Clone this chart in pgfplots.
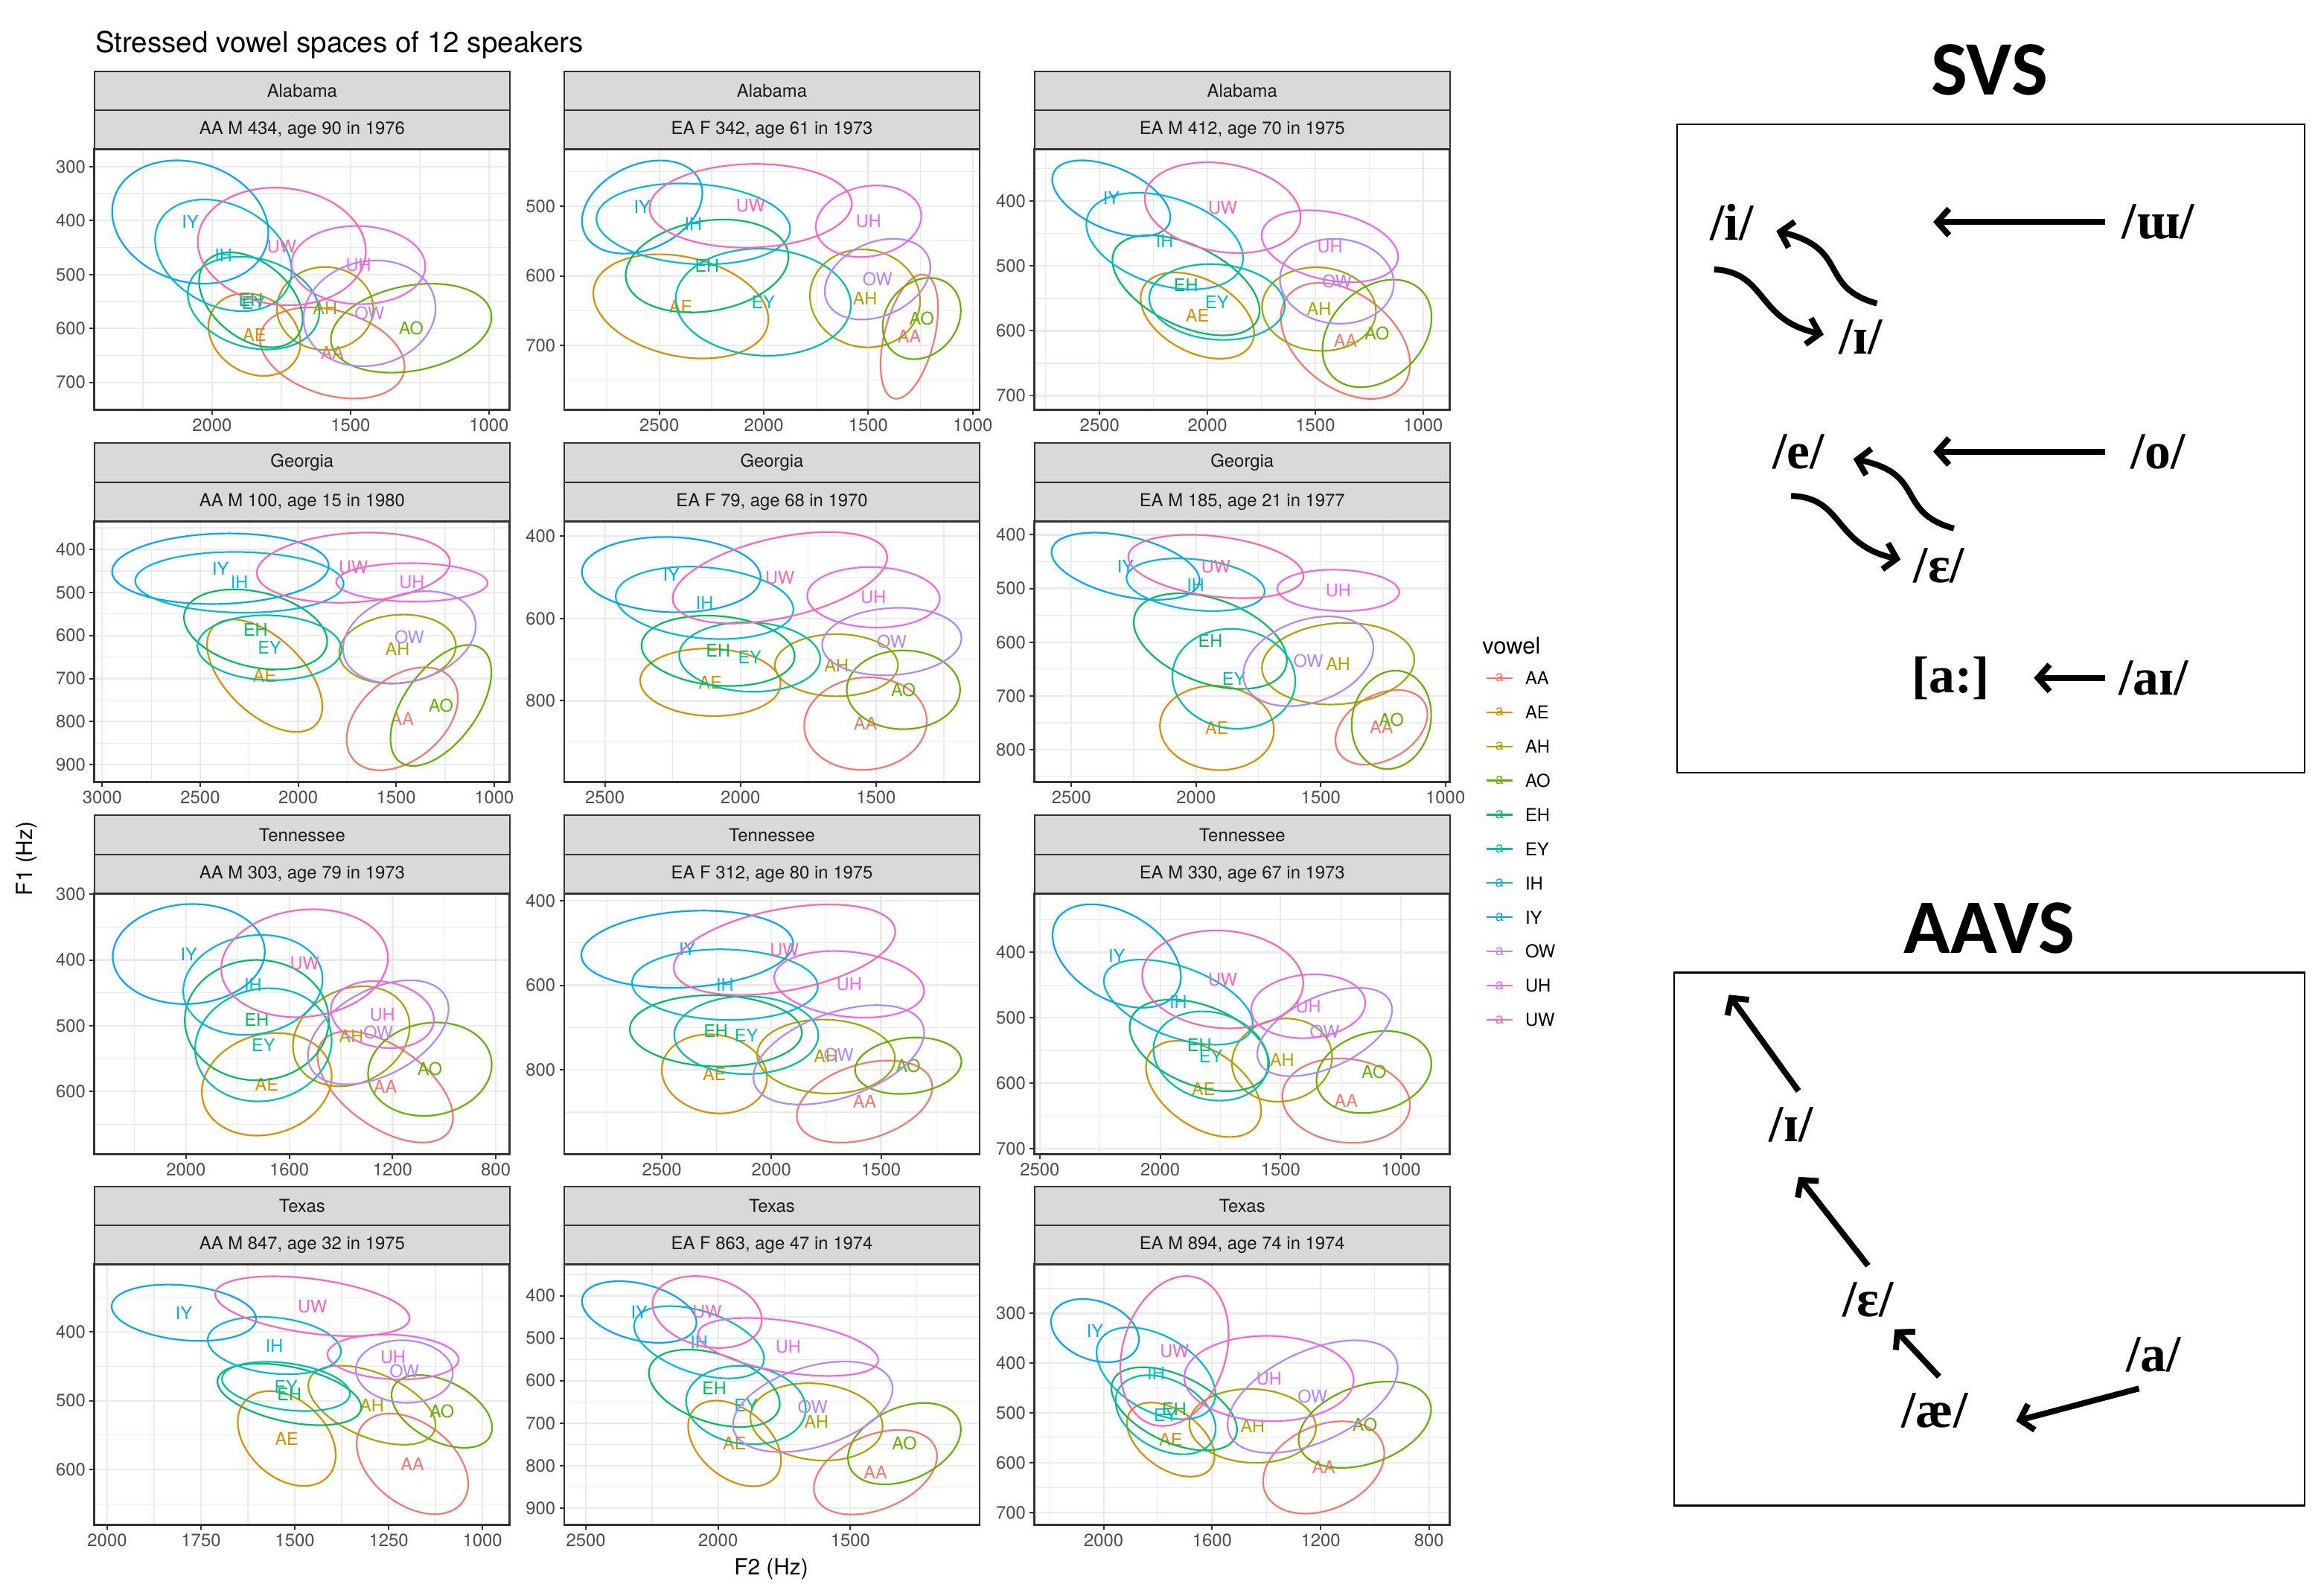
\documentclass[border=0pt]{standalone}
\usepackage{fontspec}
\setmainfont{TeX Gyre Heros}
\newfontfamily\ipafont{Liberation Serif}
\newfontfamily\headfont{Carlito}
\usepackage{pgfplots}
\usepackage{pgfplotstable}
\pgfplotsset{compat=1.18}
\usetikzlibrary{arrows.meta}

\definecolor{cAA}{HTML}{F8766D}
\definecolor{cAE}{HTML}{DB8E00}
\definecolor{cAH}{HTML}{AEA200}
\definecolor{cAO}{HTML}{64B200}
\definecolor{cEH}{HTML}{00BD5C}
\definecolor{cEY}{HTML}{00C1A7}
\definecolor{cIH}{HTML}{00BADE}
\definecolor{cIY}{HTML}{00A6FF}
\definecolor{cOW}{HTML}{B385FF}
\definecolor{cUH}{HTML}{EF67EB}
\definecolor{cUW}{HTML}{FF63B6}
\definecolor{gray10}{HTML}{1A1A1A}
\definecolor{gray20}{HTML}{333333}
\definecolor{gray30}{HTML}{4D4D4D}
\definecolor{gray85}{HTML}{D9D9D9}
\definecolor{gray92}{HTML}{EBEBEB}

\newcommand\tickfont{\fontsize{6}{7}\selectfont}
\newcommand\vfont{\fontsize{5.9}{7}\selectfont}
\newcommand\stripfont{\fontsize{6}{7}\selectfont}

% ellipse tables: centre (cx,cy), half extents (dx,dy), tilt r
\pgfplotstableread{
v  cx     cy     dx     dy     r
AA 1566   645.5  261    84.5   0.30
AE 1847   611.5  166    76.5   0.20
AH 1592   563    174    77     0.00
AO 1281   599.5  290    82.5  -0.25
EH 1860   547    187    88     0.40
EY 1850.5 553    237.5  86     0.20
IH 1959.5 464.5  246.5  103.5  0.28
IY 2079   402.75 282    114.25 0.17
OW 1431.5 572    238.5  98    -0.10
UH 1471.5 482.5  241.5  72.5   0.03
UW 1748.5 448    303.5  109    0.08
}\tA
\pgfplotstableread{
v  cx     cy     dx     dy     r
AA 1303.5 687.5  137.5  89.5  -0.45
AE 2397   644    419    75     0.25
AH 1515.5 632.5  263.5  70.5   0.05
AO 1244   661.5  187    58.5  -0.20
EH 2271.5 585.85 389.5  66.85 -0.20
EY 2002.5 638    419.5  77     0.05
IH 2337.5 525.25 463.5  58.25  0.13
IY 2582   501    288    67    -0.30
OW 1455.5 604.8  252.5  58.2  -0.30
UH 1498.5 521.5  252.5  51.5  -0.15
UW 2063   499.25 484    60.25 -0.05
}\tB
\pgfplotstableread{
v  cx     cy     dx     dy     r
AA 1360.5 615.5  299.5  89.5   0.40
AE 2047   576.5  263    66.5   0.40
AH 1483   566.5  264    64.5   0.05
AO 1214   604    253    83    -0.30
EH 2100   529.75 341    77.25  0.50
EY 1956   555.5  314    58.5   0.10
IH 2198.5 461.5  363.5  74.5   0.35
IY 2446   395.5  274    58.5   0.50
OW 1400   523.5  264    65.5   0.05
UH 1432.5 469.5  316.5  55.5   0.30
UW 1929.5 410    361.5  70     0.20
}\tC
\pgfplotstableread{
v  cx     cy     dx     dy     r
AA 1469   793.5  284    119.5 -0.40
AE 2171   693.5  294    130.5  0.55
AH 1493   631.75 298    80.25 -0.10
AO 1271.5 762.5  257.5  140.5 -0.55
EH 2217.5 586    365.5  93     0.30
EY 2146.5 628.5  367.5  75.5   0.05
IH 2300   476.5  532    70.5   0.05
IY 2397   445    553    82    -0.08
OW 1432.5 604    338.5  107   -0.25
UH 1419.5 476.75 386.5  44.75  0.03
UW 1718.5 442.5  492.5  81.5  -0.15
}\tD
\pgfplotstableread{
v  cx     cy     dx     dy     r
AA 1539   855.5  226    112.5 -0.05
AE 2111   755    259    82     0.05
AH 1646   713.5  227    75.5   0.00
AO 1399   773.25 209    95.75  0.00
EH 2082.5 678.5  282.5  85.5   0.15
EY 1966   693.5  260    84.5   0.05
IH 2132.5 562    327.5  88     0.18
IY 2255.5 493.5  329.5  91.5   0.07
OW 1442   656    257    82    -0.10
UH 1509.5 548.5  244.5  73.5   0.05
UW 1854.5 501    395.5  111   -0.45
}\tE
\pgfplotstableread{
v  cx     cy     dx     dy     r
AA 1256.5 758.5  184.5  69.5  -0.35
AE 1916.5 759.5  228.5  78.5   0.05
AH 1430.5 640    305.5  76    -0.10
AO 1216.5 744.5  159.5  91.5  -0.10
EH 1943   598    307    89     0.40
EY 1848.5 668    246.5  93     0.05
IH 2002   493    277    49     0.25
IY 2283   458.5  297    62.5   0.42
OW 1550   635.5  261    83.5  -0.30
UH 1429.5 503.5  244.5  38.5   0.08
UW 1920.5 459    351.5  59     0.30
}\tF
\pgfplotstableread{
v  cx     cy     dx     dy     r
AA 1228.5 593    262.5  84.5   0.55
AE 1687.5 589    251.5  78    -0.15
AH 1360   516    226    76    -0.20
AO 1055.5 566    239.5  71    -0.10
EH 1726   491.5  279    91.5   0.00
EY 1700.5 529    264.5  86    -0.08
IH 1741   438    270    76    -0.12
IY 1989.5 391    294.5  76    -0.05
OW 1255.5 510    272.5  79    -0.45
UH 1239.5 483    199.5  51     0.15
UW 1541   405    323    82    -0.10
}\tG
\pgfplotstableread{
v  cx     cy     dx     dy     r
AA 1575   875    309    97    -0.35
AE 2260   809.5  240    93.5   0.10
AH 1750.5 768.5  314.5  87.5   0.05
AO 1375.5 790.25 242.5  66.75 -0.15
EH 2253.5 707.75 392.5  84.25  0.05
EY 2114.5 718    328.5  92     0.00
IH 2212   598.5  424    83.5   0.05
IY 2384   514.75 483    91.25 -0.15
OW 1692.5 764.5  389.5  117.5 -0.45
UH 1645   597.75 342    78.75  0.20
UW 1940.5 516    505.5  107   -0.40
}\tH
\pgfplotstableread{
v  cx     cy     dx     dy     r
AA 1228   626.5  265    64.5   0.10
AE 1820   608.5  239    73.5   0.45
AH 1494   564.5  208    63.5  -0.08
AO 1112.5 582.75 238.5  62.75 -0.20
EH 1837.5 542    289.5  70     0.40
EY 1790   558.25 238    68.25  0.15
IH 1925   476    309    65     0.50
IY 2180.5 405.5  266.5  79     0.40
OW 1317   521.5  280    67.5  -0.50
UH 1385   482.25 237    48.75 -0.10
UW 1740.5 441.25 334.5  74.75  0.08
}\tI
\pgfplotstableread{
v  cx     cy     dx     dy     r
AA 1186.5 591.8  148.5  73.2   0.40
AE 1521.5 555    130.5  69     0.35
AH 1294.5 506.5  169.5  57.5   0.50
AO 1108   515.55 134    52.95  0.45
EH 1514.5 490.8  191.5  44.8   0.42
EY 1523.5 479.2  170.5  35.8   0.30
IH 1554.5 419.75 177.5  41.75  0.20
IY 1795.5 372    192.5  41     0.22
OW 1208   457.5  129    45.5   0.05
UH 1238.25 436.3 174.75 32.7   0.12
UW 1453   362.5  259    43.5   0.40
}\tJ
\pgfplotstableread{
v  cx     cy     dx     dy     r
AA 1405   815.5  233    99.5  -0.38
AE 1937.75 747.75 175.75 100.75 0.40
AH 1628   697    250    91     0.12
AO 1295.5 748.3  213.5  95.7  -0.35
EH 2014.5 618    247.5  91     0.40
EY 1894.75 657.5 226.25 92.5   0.10
IH 2072   509.65 246    85.05  0.45
IY 2298.5 438.5  216.5  72.5   0.35
OW 1642   661.5  302    106.5 -0.40
UH 1735   520.8  341    68.2   0.45
UW 2041.5 438.5  206.5  84.5   0.22
}\tK
\pgfplotstableread{
v  cx     cy     dx     dy     r
AA 1188.5 609.25 223.5  92.75 -0.30
AE 1752.5 553.35 161.5  74.35  0.45
AH 1450.5 525.8  233.5  74.2   0.05
AO 1036.75 523.35 244.25 86.65 -0.35
EH 1739.75 491.5 231.75 83.5   0.50
EY 1771.5 503.4  184.5  79.4   0.35
IH 1807   420.25 219    92.25  0.45
IY 2032   334.5  162    63.5   0.28
OW 1229.25 467   313.75 113   -0.50
UH 1390.25 430.75 312.25 85.75 0.03
UW 1738.75 375.5 199.75 150.5 -0.22
}\tL

\newcommand\drawvowels[1]{%
  \pgfplotsforeachungrouped \i in {0,...,10}{%
    \pgfplotstablegetelem{\i}{v}\of{#1}\edef\V{\pgfplotsretval}%
    \pgfplotstablegetelem{\i}{cx}\of{#1}\edef\CX{\pgfplotsretval}%
    \pgfplotstablegetelem{\i}{cy}\of{#1}\edef\CY{\pgfplotsretval}%
    \pgfplotstablegetelem{\i}{dx}\of{#1}\edef\DX{\pgfplotsretval}%
    \pgfplotstablegetelem{\i}{dy}\of{#1}\edef\DY{\pgfplotsretval}%
    \pgfplotstablegetelem{\i}{r}\of{#1}\edef\R{\pgfplotsretval}%
    \pgfmathsetmacro\PH{acos(-1*(\R))}%
    \edef\cmd{\noexpand\addplot[draw=c\V, line width=0.55pt, mark=none,
        domain=0:360, samples=73, smooth]
        ({\CX+\DX*cos(x)},{\CY+\DY*cos(x+\PH)});
      \noexpand\node[text=c\V, font=\noexpand\vfont, inner sep=0pt]
        at (axis cs:\CX,\CY) {\V};}%
    \cmd
  }%
}

\pgfplotsset{
  vpanel/.style={
    scale only axis, width=140.3pt, height=88pt, anchor=north west,
    x dir=reverse, y dir=reverse,
    tick pos=left, tick align=outside,
    major tick length=1.6pt, minor tick length=0pt,
    grid=both,
    major grid style={draw=gray92, line width=0.55pt},
    minor grid style={draw=gray92, line width=0.3pt},
    axis line style={draw=gray20, line width=0.7pt},
    tick style={draw=gray20, line width=0.5pt},
    ticklabel style={font=\tickfont, text=gray30},
    xticklabel style={inner sep=1.2pt},
    yticklabel style={inner sep=1.2pt},
    scaled ticks=false,
    /pgf/number format/1000 sep={},
    /pgf/number format/assume math mode=true,
  }
}

\begin{document}
\begin{tikzpicture}
\useasboundingbox (0pt,0pt) rectangle (784pt,-539pt);

% title
\node[anchor=base west, inner sep=0pt, font=\fontsize{9.7}{11}\selectfont, text=black]
  at (32pt,-17.8pt) {Stressed vowel spaces of 12 speakers};

% strips
\foreach \x/\y/\s/\sp in {
  31.9/-50.45/Alabama/{AA M 434, age 90 in 1976},
  190.6/-50.45/Alabama/{EA F 342, age 61 in 1973},
  349.45/-50.45/Alabama/{EA M 412, age 70 in 1975},
  31.9/-176.1/Georgia/{AA M 100, age 15 in 1980},
  190.6/-176.1/Georgia/{EA F 79, age 68 in 1970},
  349.45/-176.1/Georgia/{EA M 185, age 21 in 1977},
  31.9/-301.8/Tennessee/{AA M 303, age 79 in 1973},
  190.6/-301.8/Tennessee/{EA F 312, age 80 in 1975},
  349.45/-301.8/Tennessee/{EA M 330, age 67 in 1973},
  31.9/-427.15/Texas/{AA M 847, age 32 in 1975},
  190.6/-427.15/Texas/{EA F 863, age 47 in 1974},
  349.45/-427.15/Texas/{EA M 894, age 74 in 1974}}{
  \draw[fill=gray85, draw=gray20, line width=0.5pt]
    ({\x pt},{\y pt+26.4pt}) rectangle ({\x pt+140.3pt},{\y pt});
  \draw[gray20, line width=0.5pt] ({\x pt},{\y pt+13.2pt}) -- ({\x pt+140.3pt},{\y pt+13.2pt});
  \node[font=\stripfont, text=gray10, inner sep=0pt] at ({\x pt+70.15pt},{\y pt+19.8pt}) {\s};
  \node[font=\stripfont, text=gray10, inner sep=0pt] at ({\x pt+70.15pt},{\y pt+6.6pt}) {\sp};
}

% row 1
\begin{axis}[vpanel, at={(31.9pt,-50.45pt)},
  xmin=925, xmax=2425, ymin=268, ymax=751,
  xtick={1000,1500,2000}, minor xtick={1250,1750,2250},
  ytick={300,400,500,600,700}, minor ytick={350,450,550,650,750}]
\drawvowels{\tA}
\end{axis}
\begin{axis}[vpanel, at={(190.6pt,-50.45pt)},
  xmin=967, xmax=2955, ymin=418, ymax=793,
  xtick={1000,1500,2000,2500}, minor xtick={1250,1750,2250,2750},
  ytick={500,600,700}, minor ytick={450,550,650,750}]
\drawvowels{\tB}
\end{axis}
\begin{axis}[vpanel, at={(349.45pt,-50.45pt)},
  xmin=876, xmax=2802, ymin=320, ymax=722,
  xtick={1000,1500,2000,2500}, minor xtick={1250,1750,2250,2750},
  ytick={400,500,600,700}, minor ytick={350,450,550,650}]
\drawvowels{\tC}
\end{axis}
% row 2
\begin{axis}[vpanel, at={(31.9pt,-176.1pt)},
  xmin=920, xmax=3040, ymin=335, ymax=940,
  xtick={1000,1500,2000,2500,3000}, minor xtick={1250,1750,2250,2750},
  ytick={400,500,600,700,800,900}, minor ytick={350,450,550,650,750,850}]
\drawvowels{\tD}
\end{axis}
\begin{axis}[vpanel, at={(190.6pt,-176.1pt)},
  xmin=1118, xmax=2650, ymin=364, ymax=997,
  xtick={1500,2000,2500}, minor xtick={1250,1750,2250},
  ytick={400,600,800}, minor ytick={500,700,900}]
\drawvowels{\tE}
\end{axis}
\begin{axis}[vpanel, at={(349.45pt,-176.1pt)},
  xmin=982, xmax=2648, ymin=375, ymax=860,
  xtick={1000,1500,2000,2500}, minor xtick={1250,1750,2250},
  ytick={400,500,600,700,800}, minor ytick={450,550,650,750,850}]
\drawvowels{\tF}
\end{axis}
% row 3
\begin{axis}[vpanel, at={(31.9pt,-301.8pt)},
  xmin=746, xmax=2355, ymin=299, ymax=695,
  xtick={800,1200,1600,2000}, minor xtick={1000,1400,1800,2200},
  ytick={300,400,500,600}, minor ytick={350,450,550,650}]
\drawvowels{\tG}
\end{axis}
\begin{axis}[vpanel, at={(190.6pt,-301.8pt)},
  xmin=1050, xmax=2945, ymin=383, ymax=999,
  xtick={1500,2000,2500}, minor xtick={1250,1750,2250,2750},
  ytick={400,600,800}, minor ytick={500,700,900}]
\drawvowels{\tH}
\end{axis}
\begin{axis}[vpanel, at={(349.45pt,-301.8pt)},
  xmin=797, xmax=2522, ymin=310, ymax=708,
  xtick={1000,1500,2000,2500}, minor xtick={1250,1750,2250},
  ytick={400,500,600,700}, minor ytick={350,450,550,650}]
\drawvowels{\tI}
\end{axis}
% row 4
\begin{axis}[vpanel, at={(31.9pt,-427.15pt)},
  xmin=927, xmax=2034, ymin=302, ymax=681,
  xtick={1000,1250,1500,1750,2000}, minor xtick={1125,1375,1625,1875},
  ytick={400,500,600}, minor ytick={350,450,550,650}]
\drawvowels{\tJ}
\end{axis}
\begin{axis}[vpanel, at={(190.6pt,-427.15pt)},
  xmin=1011, xmax=2582, ymin=327, ymax=940,
  xtick={1500,2000,2500}, minor xtick={1250,1750,2250},
  ytick={400,500,600,700,800,900}, minor ytick={350,450,550,650,750,850}]
\drawvowels{\tK}
\end{axis}
\begin{axis}[vpanel, at={(349.45pt,-427.15pt)},
  xmin=723, xmax=2255, ymin=202, ymax=725,
  xtick={800,1200,1600,2000}, minor xtick={1000,1400,1800,2200},
  ytick={300,400,500,600,700}, minor ytick={250,350,450,550,650}]
\drawvowels{\tL}
\end{axis}

% axis titles
\node[rotate=90, font=\fontsize{7.5}{9}\selectfont, inner sep=0pt] at (9pt,-290pt) {F1 (Hz)};
\node[font=\fontsize{7.5}{9}\selectfont, inner sep=0pt] at (260.5pt,-530pt) {F2 (Hz)};

% legend
\node[anchor=west, font=\fontsize{7.8}{9}\selectfont, inner sep=0pt] at (500.5pt,-218pt) {vowel};
\foreach \v [count=\k from 0] in {AA,AE,AH,AO,EH,EY,IH,IY,OW,UH,UW}{
  \draw[c\v, line width=0.55pt] (502pt,{-229pt-11.55pt*\k}) -- (511pt,{-229pt-11.55pt*\k});
  \node[text=c\v, font=\fontsize{5}{6}\selectfont, inner sep=0pt]
    at (506.5pt,{-229pt-11.55pt*\k}) {a};
  \node[anchor=west, font=\fontsize{6}{7}\selectfont, inner sep=0pt] at (515pt,{-229pt-11.55pt*\k}) {\v};
}

% SVS diagram
\node[font=\headfont\bfseries\fontsize{26}{30}\selectfont, inner sep=0pt] at (672pt,-23.5pt) {SVS};
\draw[black, line width=0.6pt] (566.5pt,-42pt) rectangle (778.5pt,-261pt);
\begin{scope}[font=\ipafont\bfseries\fontsize{17.5}{20}\selectfont]
\node at (585pt,-75pt) {/i/};
\node at (729pt,-75pt) {/ɯ/};
\node at (628.5pt,-114pt) {/ɪ/};
\node at (607.5pt,-152.5pt) {/e/};
\node at (729pt,-152.5pt) {/o/};
\node at (655pt,-191pt) {/ɛ/};
\node at (659pt,-229pt) {[a:]};
\node at (727.5pt,-229pt) {/aɪ/};
\end{scope}
\begin{scope}[line width=2pt, -{Straight Barb[length=4pt,width=9pt]}]
\draw (711pt,-75pt) -- (653pt,-75pt);
\draw (711pt,-152.5pt) -- (653pt,-152.5pt);
\draw (711pt,-229pt) -- (687pt,-229pt);
\draw (634pt,-102.5pt) .. controls (614pt,-97pt) and (625pt,-84pt) .. (600pt,-78pt);
\draw (579pt,-91pt) .. controls (597pt,-92pt) and (593pt,-108pt) .. (616pt,-113pt);
\draw (660pt,-178.5pt) .. controls (640pt,-173pt) and (651pt,-160pt) .. (626pt,-155pt);
\draw (605pt,-167.5pt) .. controls (623pt,-168pt) and (619pt,-184pt) .. (642pt,-189pt);
\end{scope}

% AAVS diagram
\node[font=\headfont\bfseries\fontsize{26}{30}\selectfont, inner sep=0pt] at (672pt,-313.5pt) {AAVS};
\draw[black, line width=0.6pt] (565.5pt,-328.5pt) rectangle (778.5pt,-508.5pt);
\begin{scope}[font=\ipafont\bfseries\fontsize{17.5}{20}\selectfont]
\node at (605pt,-380pt) {/ɪ/};
\node at (631pt,-439pt) {/ɛ/};
\node at (727.5pt,-457.5pt) {/a/};
\node at (653.5pt,-476.5pt) {/æ/};
\end{scope}
\begin{scope}[line width=2pt, -{Straight Barb[length=4pt,width=9pt]}]
\draw (607.5pt,-368.5pt) -- (584pt,-336pt);
\draw (631pt,-427.5pt) -- (607.5pt,-397.5pt);
\draw (655pt,-465pt) -- (640pt,-449pt);
\draw (722.5pt,-469pt) -- (681pt,-480pt);
\end{scope}
\end{tikzpicture}
\end{document}
